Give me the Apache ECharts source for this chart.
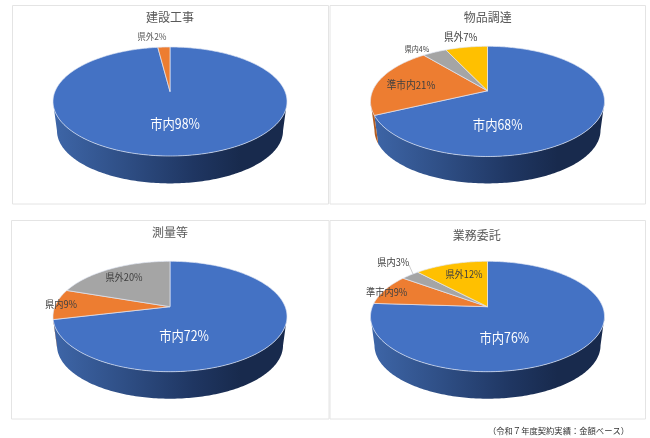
<!DOCTYPE html>
<html><head><meta charset="utf-8">
<style>html,body{margin:0;padding:0;background:#fff}#c{width:650px;height:438px;filter:blur(0.35px)}</style>
<script src="https://cdn.jsdelivr.net/npm/echarts@6/dist/echarts.min.js"></script>
</head><body><div id="c"></div>
<script>
// ---- data ----
const titles = ['建設工事', '物品調達', '測量等', '業務委託'];
const names1 = ['市内', '県外'];
const values1 = [98, 2];
const names2 = ['市内', '準市内', '県内', '県外'];
const values2 = [68, 21, 4, 7];
const names3 = ['市内', '県内', '県外'];
const values3 = [72, 9, 20];
const names4 = ['市内', '準市内', '県内', '県外'];
const values4 = [76, 9, 3, 12];
const footnote = '（令和７年度契約実績：金額ベース）';

// ---- layout & style (pixels) ----
const FONT = '"Noto Sans CJK JP","Noto Sans CJK SC",sans-serif';
const LABEL_SQUEEZE = 0.88;
const BLUE = '#4472c4', ORANGE = '#ed7d31', GREY = '#a5a5a5', YELLOW = '#ffc000';
const panels = [
  { names: names1, values: values1, title: titles[0], box: [12.5, 5.5, 316, 198.5], tx: 170, ty: 17.7,
    cx: 170, apex: 91.6, top: 47, bottom: 156, rx: 117, base: 183.4,
    colors: [BLUE, ORANGE],
    labels: [[175, 124, 14, '#fff'], [152, 36, 9.5, '#595959']] },
  { names: names2, values: values2, title: titles[1], box: [330, 5.5, 315.5, 198.5], tx: 487.7, ty: 17.7,
    cx: 487.5, apex: 90.8, top: 46.3, bottom: 156.5, rx: 117, base: 183.4,
    colors: [BLUE, ORANGE, GREY, YELLOW],
    labels: [[497.7, 125, 14, '#fff'], [411, 85, 11, '#404040'], [417, 48.7, 8, '#404040'], [460.7, 37.3, 11, '#404040']] },
  { names: names3, values: values3, title: titles[2], box: [11.5, 220.5, 317.5, 198.5], tx: 170, ty: 232.7,
    cx: 170, apex: 306.7, top: 261.3, bottom: 371.7, rx: 117, base: 398.7,
    colors: [BLUE, ORANGE, GREY],
    labels: [[184, 335.7, 14, '#fff'], [61, 304, 10.5, '#404040'], [124, 277, 10.5, '#404040']] },
  { names: names4, values: values4, title: titles[3], box: [330, 220.5, 315.5, 198.5], tx: 476.7, ty: 235,
    cx: 487.5, apex: 306.7, top: 261.3, bottom: 371.7, rx: 117, base: 398.7,
    colors: [BLUE, ORANGE, GREY, YELLOW],
    labels: [[504.3, 337.7, 14, '#fff'], [386.7, 292.3, 10.5, '#404040'], [393.3, 261.7, 10.5, '#404040'], [464, 274.3, 10.5, '#404040']],
    leader: { index: 2, from: [409, 265], to: [413, 274] } }
];

// Perspective projection of a flat disc: the disc centre lands on the apex,
// the rim lands on an ellipse whose centre is below the apex.
function projector(p) {
  const lo = p.bottom - p.apex, hi = p.apex - p.top;
  const a = (lo - hi) / (lo + hi), b = lo * (1 - a), d = p.rx * Math.sqrt(1 - a * a);
  const baseScale = 0.966, baseShift = p.base - p.apex - baseScale * lo;
  return {
    a,
    rim(deg, base) {
      const t = deg * Math.PI / 180, u = Math.sin(t), v = -Math.cos(t), w = 1 - a * v;
      const x = d * u / w, y = b * v / w;
      return base ? [p.cx + baseScale * x, p.apex + baseShift + baseScale * y] : [p.cx + x, p.apex + y];
    }
  };
}
function arc(proj, t0, t1, base) {
  const pts = [], n = Math.max(2, Math.ceil(Math.abs(t1 - t0)));
  for (let i = 0; i <= n; i++) pts.push(proj.rim(t0 + (t1 - t0) * i / n, base));
  return pts;
}
function sideFill(p, c) {
  const stops = c === BLUE
    ? [[0, '#3e66a8'], [0.3, '#2f4f86'], [0.6, '#1f3662'], [0.8, '#182a4d'], [1, '#182a4d']]
    : [[0, '#b35c20'], [1, '#7a3f15']];
  return { type: 'linear', global: true, x: p.cx - p.rx, y: 0, x2: p.cx + p.rx, y2: 0,
    colorStops: stops.map(s => ({ offset: s[0], color: s[1] })) };
}
function makeSeries(p) {
  const proj = projector(p);
  const total = p.values.reduce((s, v) => s + v, 0);
  const frontFrom = Math.acos(-proj.a) * 180 / Math.PI, frontTo = 360 - frontFrom;
  let run = 0;
  const data = p.values.map(v => { const row = [v, run]; run += v; return row; });
  return {
    type: 'custom', coordinateSystem: 'none', silent: true, clip: false,
    data,
    renderItem(params, api) {
      const i = params.dataIndex, t0 = api.value(1) / total * 360, t1 = (api.value(1) + api.value(0)) / total * 360;
      const color = p.colors[i], kids = [];
      const f0 = Math.max(t0, frontFrom), f1 = Math.min(t1, frontTo);
      if (f1 > f0) {
        kids.push({ type: 'polygon', z2: 1,
          shape: { points: arc(proj, f0, f1, false).concat(arc(proj, f1, f0, true)) },
          style: { fill: sideFill(p, color) } });
      }
      kids.push({ type: 'polygon', z2: 2,
        shape: { points: [[p.cx, p.apex]].concat(arc(proj, t0, t1, false)) },
        style: { fill: color, stroke: 'rgba(225,232,245,0.85)', lineWidth: 0.8 } });
      if (p.leader && p.leader.index === i) {
        kids.push({ type: 'line', z2: 3,
          shape: { x1: p.leader.from[0], y1: p.leader.from[1], x2: p.leader.to[0], y2: p.leader.to[1] },
          style: { stroke: '#bfbfbf', lineWidth: 0.8 } });
      }
      const l = p.labels[i];
      kids.push({ type: 'text', z2: 4, x: l[0], y: l[1], scaleX: LABEL_SQUEEZE,
        style: { text: p.names[i] + api.value(0) + '%', x: 0, y: 0, fill: l[3],
          font: l[2] + 'px ' + FONT, align: 'center', verticalAlign: 'middle' } });
      return { type: 'group', children: kids };
    }
  };
}

const chart = echarts.init(document.getElementById('c'), null, { renderer: 'canvas' });
chart.setOption({
  animation: false,
  backgroundColor: '#fff',
  title: panels.map(p => ({
    text: p.title, left: p.tx, top: p.ty - 8, textAlign: 'center', padding: 0,
    textStyle: { fontFamily: FONT, fontSize: 12, fontWeight: 'normal', color: '#595959', lineHeight: 16 }
  })).concat([{
    text: footnote, left: 558.5, top: 425, textAlign: 'center', padding: 0,
    textStyle: { fontFamily: FONT, fontSize: 8.3, fontWeight: 'normal', color: '#333', lineHeight: 12 }
  }]),
  graphic: panels.map(p => ({
    type: 'rect', silent: true, z: -1,
    shape: { x: p.box[0], y: p.box[1], width: p.box[2], height: p.box[3] },
    style: { fill: '#fff', stroke: '#e4e4e4', lineWidth: 1 }
  })),
  series: panels.map(makeSeries)
});
</script></body></html>
